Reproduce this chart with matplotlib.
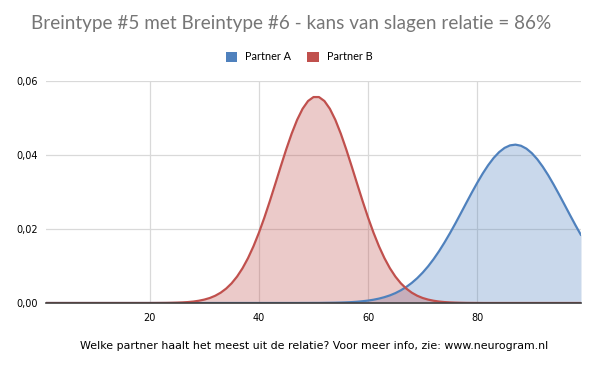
import matplotlib
matplotlib.use("Agg")
import matplotlib.pyplot as plt
from matplotlib.patches import Patch
from matplotlib.ticker import FixedLocator, FuncFormatter

# ---- data ----
x_values = list(range(1, 100))

partner_b = [0.0] * 20 + [
    0.00001, 0.00002, 0.00003, 0.00006, 0.00010, 0.00016, 0.00025, 0.00039, 0.00061, 0.00092,
    0.00135, 0.00196, 0.00279, 0.00389, 0.00532, 0.00714, 0.00939, 0.01211, 0.01531, 0.01898,
    0.02308, 0.02753, 0.03219, 0.03691, 0.04151, 0.04577, 0.04950, 0.05249, 0.05459, 0.05566,
    0.05566, 0.05459, 0.05249, 0.04950, 0.04577, 0.04151, 0.03691, 0.03219, 0.02753, 0.02308,
    0.01898, 0.01531, 0.01211, 0.00939, 0.00714, 0.00532, 0.00389, 0.00279, 0.00196, 0.00135,
    0.00092, 0.00061, 0.00039, 0.00025, 0.00016, 0.00010, 0.00006, 0.00003, 0.00002, 0.00001,
] + [0.0] * 19

partner_a = [0.0] * 47 + [
    0.00001, 0.00001, 0.00002, 0.00002, 0.00004, 0.00006, 0.00008, 0.00012, 0.00017, 0.00024,
    0.00034, 0.00048, 0.00065, 0.00089, 0.00119, 0.00158, 0.00206, 0.00267, 0.00343, 0.00434,
    0.00543, 0.00671, 0.00821, 0.00992, 0.01186, 0.01401, 0.01636, 0.01888, 0.02153, 0.02429,
    0.02708, 0.02984, 0.03250, 0.03500, 0.03725, 0.03920, 0.04077, 0.04192, 0.04260, 0.04280,
    0.04250, 0.04172, 0.04049, 0.03884, 0.03682, 0.03452, 0.03198, 0.02929, 0.02652, 0.02373,
    0.02099, 0.01836,
]

series_names = ["Partner A", "Partner B"]
x_ticks = [20, 40, 60, 80]
y_ticks = [0.0, 0.02, 0.04, 0.06]

title = "Breintype #5 met Breintype #6 - kans van slagen relatie = 86%"
footer = "Welke partner haalt het meest uit de relatie? Voor meer info, zie: www.neurogram.nl"

# ---- style ----
blue = "#4F81BD"
red = "#C0504D"
grid_col = "#D9D9D9"

fig = plt.figure(figsize=(6.0, 3.71), dpi=100)
ax = fig.add_axes([46 / 600, 1 - 303 / 371, (581 - 46) / 600, (303 - 81) / 371])

ax.fill_between(x_values, partner_a, 0, color=blue, alpha=0.30, linewidth=0, zorder=2)
ax.fill_between(x_values, partner_b, 0, color=red, alpha=0.30, linewidth=0, zorder=2)
ax.plot(x_values, partner_a, color=blue, linewidth=1.6, zorder=4, solid_capstyle="round")
ax.plot(x_values, partner_b, color=red, linewidth=1.6, zorder=4, solid_capstyle="round")

ax.set_xlim(1, 99)
ax.set_ylim(0, 0.06)
ax.xaxis.set_major_locator(FixedLocator(x_ticks))
ax.yaxis.set_major_locator(FixedLocator(y_ticks))
ax.yaxis.set_major_formatter(FuncFormatter(lambda v, p: f"{v:.2f}".replace(".", ",")))
ax.grid(True, color=grid_col, linewidth=0.9, zorder=1)
ax.set_axisbelow(True)
for side in ["top", "right", "left"]:
    ax.spines[side].set_visible(False)
ax.spines["bottom"].set_color("#404040")
ax.spines["bottom"].set_linewidth(1.2)
ax.spines["bottom"].set_zorder(5)
ax.tick_params(axis="both", length=0, labelsize=7, labelcolor="#000000", pad=7)
ax.tick_params(axis="y", pad=6)

fig.text(291 / 600, 1 - 24 / 371, title, ha="center", va="center",
         fontsize=13.6, color="#767676", family="Lato")

handles = [Patch(facecolor=blue, edgecolor="none"), Patch(facecolor=red, edgecolor="none")]
fig.legend(handles, series_names, loc="center", bbox_to_anchor=(299 / 600, 1 - 57 / 371),
           ncol=2, frameon=False, prop={"family": "Lato", "size": 7.8},
           handlelength=1.1, handleheight=1.1,
           handletextpad=0.7, columnspacing=1.5)

fig.text(314 / 600, 1 - 346 / 371, footer, ha="center", va="center",
         fontsize=7.9, color="#000000", fontweight="normal")

fig.savefig("out.png", dpi=100)
